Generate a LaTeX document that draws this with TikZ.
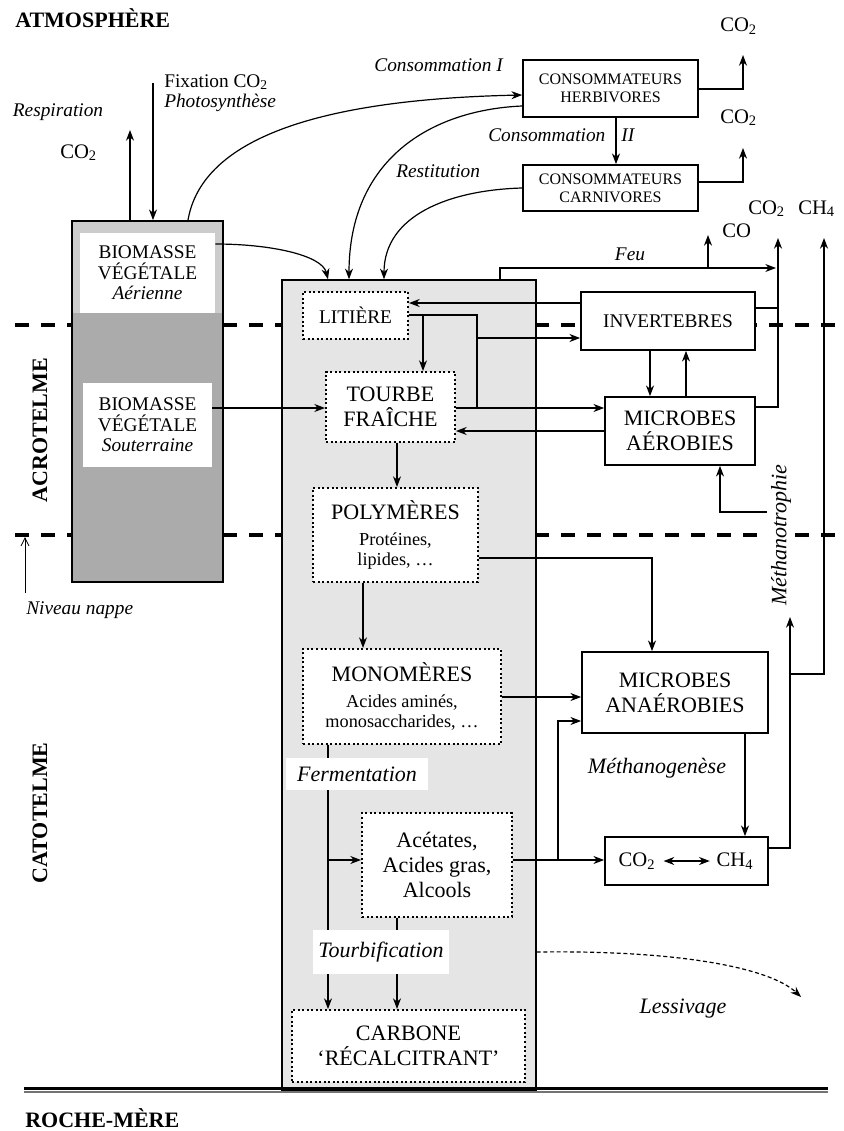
\documentclass[tikz,border=0pt]{standalone}
\usepackage{fontspec}
\setmainfont{Liberation Serif}
\usetikzlibrary{arrows.meta}
\newcommand\myszA{\fontsize{14.5pt}{15.4pt}\selectfont}
\newcommand\myszB{\fontsize{16.5pt}{19pt}\selectfont}
\newcommand\myszC{\fontsize{12pt}{13.5pt}\selectfont}
\newcommand\myszD{\fontsize{13.7pt}{15.5pt}\selectfont}
\newcommand\myszG{\fontsize{15.5pt}{17pt}\selectfont}
\newcommand\myszT{\fontsize{16.5pt}{19pt}\selectfont\bfseries}
\begin{document}
\begin{tikzpicture}[x=0.75pt,y=-0.75pt,
  arr/.style={-{Stealth[length=8pt,width=6pt,inset=2.5pt]}, line width=0.9pt},
  ln/.style={line width=0.9pt},
  wl/.style={line width=2.3pt, dash pattern=on 10.5pt off 9pt},
  solidbox/.style={draw, line width=1.3pt, fill=white, inner sep=0pt, align=center},
  dotbox/.style={draw, line width=1.5pt, dash pattern=on 1.5pt off 1.9pt, fill=white, inner sep=0pt, align=center},
  lbl/.style={inner sep=0pt, font=\myszA\itshape},
  lblB/.style={inner sep=0pt, font=\myszB\itshape},
  gasl/.style={inner sep=0pt, font=\myszG},
  ttl/.style={inner sep=0pt, font=\myszT}]

\fill[white] (0,0) rectangle (842,1131);

% water-table lines
\draw[wl] (15,325) -- (842,325);
\draw[wl] (15,535) -- (842,535);

% biomass column
\fill[black!20] (72,221) rectangle (223,313);
\fill[black!33] (72,313) rectangle (223,582);
\node[draw, line width=1.3pt, minimum width=113.25pt, minimum height=270.75pt, inner sep=0pt] (biocol) at (147.5,401.5) {};
\node[fill=white, minimum width=101.25pt, minimum height=60pt, inner sep=0pt, align=center, font=\myszA] (bioA) at (147.5,273) {BIOMASSE\\VÉGÉTALE\\\textit{Aérienne}};
\node[fill=white, minimum width=96.75pt, minimum height=63pt, inner sep=0pt, align=center, font=\myszA] (bioS) at (147.5,425) {BIOMASSE\\VÉGÉTALE\\\textit{Souterraine}};

% peat column
\node[draw, line width=1.1pt, fill=black!10, minimum width=190.5pt, minimum height=607.5pt, inner sep=0pt] (col) at (409,685) {};

% dotted boxes in the column
\node[dotbox, font=\myszA, minimum width=78.75pt, minimum height=35.25pt] (litiere) at (355.5,315.5) {LITIÈRE};
\node[dotbox, font=\myszB, minimum width=96.75pt, minimum height=52.5pt] (tourbe) at (390.5,407) {TOURBE\\FRAÎCHE};
\node[dotbox, font=\myszD, minimum width=123.75pt, minimum height=70.5pt] (poly) at (395.5,535) {{\myszB POLYMÈRES}\\[4pt]Protéines,\\lipides, …};
\node[dotbox, font=\myszD, minimum width=148.5pt, minimum height=71.25pt] (mono) at (402,696.5) {{\myszB MONOMÈRES}\\[4pt]Acides aminés,\\monosaccharides, …};
\node[dotbox, font=\myszB, minimum width=112.5pt, minimum height=78pt] (acet) at (437,865) {Acétates,\\Acides gras,\\Alcools};
\node[dotbox, font=\myszB, minimum width=174.75pt, minimum height=54pt] (carbone) at (408.5,1046) {CARBONE\\‘RÉCALCITRANT’};

% solid boxes
\node[solidbox, font=\myszC, minimum width=131.25pt, minimum height=42.75pt] (herb) at (610.5,88.5) {CONSOMMATEURS\\HERBIVORES};
\node[solidbox, font=\myszC, minimum width=131.25pt, minimum height=34.5pt] (carn) at (610.5,188) {CONSOMMATEURS\\CARNIVORES};
\node[solidbox, font=\myszA, minimum width=130.5pt, minimum height=43.5pt] (invert) at (668,321) {INVERTEBRES};
\node[solidbox, font=\myszB, minimum width=112.5pt, minimum height=51pt] (aero) at (680,431) {MICROBES\\AÉROBIES};
\node[solidbox, font=\myszB, minimum width=139.5pt, minimum height=60.75pt] (anaero) at (675,692.5) {MICROBES\\ANAÉROBIES};
\node[solidbox, minimum width=122.25pt, minimum height=36pt] (gas) at (686.5,861) {};
\node[gasl] (gco2) at (637,861) {CO\textsubscript{2}};
\node[gasl] (gch4) at (735,861) {CH\textsubscript{4}};
\draw[{Stealth[length=8pt,width=6pt,inset=2.5pt]}-{Stealth[length=8pt,width=6pt,inset=2.5pt]}, line width=0.9pt, shorten <=6pt, shorten >=5pt] (gco2) -- (gch4);

% free ends
\coordinate (respEnd) at (130,130);
\coordinate (fixStart) at (153,83);
\coordinate (h1) at (743,55);
\coordinate (c1) at (743,148);
\coordinate (feuEnd) at (776,268);
\coordinate (coEnd) at (708,235);
\coordinate (co2End) at (778,238);
\coordinate (ch4End) at (824,238);
\coordinate (jL) at (477,315);
\coordinate (jA) at (558,860);
\coordinate (mt) at (790,617);
\coordinate (mtB) at (767,512);
\coordinate (lessEnd) at (801,997);
\coordinate (npS) at (25,593);
\coordinate (npE) at (25,537);

% atmosphere exchanges
\draw[arr] (biocol.north -| respEnd) -- (respEnd);
\draw[arr] (fixStart) -- (fixStart |- biocol.north);
\draw[arr] (biocol.north -| 188,0) .. controls (200,150) and (290,100) .. (herb.west |- 0,95);
\draw[arr] (herb.west |- 0,106) .. controls (430,110) and (349,160) .. (col.north -| 349,0);
\draw[arr] (carn.west |- 0,188) .. controls (450,190) and (384,215) .. (col.north -| 384,0);
\draw[arr] (bioA.east |- 0,244) .. controls (270,244) and (322,255) .. (col.north -| 328,0);
\draw[arr] (herb.south -| 616,0) -- (carn.north -| 616,0);
\draw[arr] (herb.east |- 0,89) -| (h1);
\draw[arr] (carn.east |- 0,182) -| (c1);

% fire
\draw[arr] (col.north -| 500,0) |- (feuEnd);
\draw[arr] (coEnd |- feuEnd) -- (coEnd);
\draw[arr] (aero.east |- 0,407) -| (co2End);
\draw[ln] (invert.east |- 0,308) -- (co2End |- 0,308);

% litter / fresh peat
\draw[arr] (invert.west |- 0,303) -- (litiere.east |- 0,303);
\draw[ln] (litiere.east |- jL) -- (jL) -- (jL |- 0,408);
\draw[arr] (jL |- 0,338) -- (invert.west |- 0,338);
\draw[arr] (423,315) -- (tourbe.north -| 423,0);
\draw[arr] (bioS.east |- 0,408) -- (tourbe.west |- 0,408);
\draw[arr] (tourbe.east |- 0,408) -- (aero.west |- 0,408);
\draw[arr] (aero.west |- 0,431) -- (tourbe.east |- 0,431);
\draw[arr] (invert.south -| 650,0) -- (aero.north -| 650,0);
\draw[arr] (aero.north -| 686,0) -- (invert.south -| 686,0);
\draw[arr] (mtB) -| (aero.south -| 720,0);

% decomposition chain
\draw[arr] (tourbe.south -| 397,0) -- (poly.north -| 397,0);
\draw[arr] (poly.south -| 363,0) -- (mono.north -| 363,0);
\draw[arr] (poly.east |- 0,558) -| (anaero.north -| 652,0);
\draw[arr] (mono.east |- 0,697) -- (anaero.west |- 0,697);
\draw[arr] (acet.east |- jA) -- (gas.west |- jA);
\draw[arr] (jA) |- (anaero.west |- 0,721);
\draw[arr] (anaero.south -| 745,0) -- (gas.north -| 745,0);
\draw[arr] (gas.east |- 0,848) -| (mt);
\draw[arr] (mt |- 0,674) -| (ch4End);
\draw[arr] (mono.south -| 328,0) -- (carbone.north -| 328,0);
\draw[arr] (328,860) -- (acet.west |- 0,860);
\draw[arr] (acet.south -| 397,0) -- (carbone.north -| 397,0);
\draw[arr, dash pattern=on 3pt off 2pt] (col.east |- 0,952) .. controls (680,950) and (770,968) .. (lessEnd);
\draw[-{Straight Barb[length=6pt,width=6pt]}, line width=0.6pt] (npS) -- (npE);

% bedrock
\draw[line width=1.6pt] (24,1088.5) -- (828,1088.5);
\draw[line width=0.8pt, black!55] (24,1092) -- (828,1092);

% labels
\node[ttl, anchor=base west] (atm) at (15,28) {ATMOSPHÈRE};
\node[ttl, anchor=base west] (roche) at (25,1127) {ROCHE-MÈRE};
\node[ttl, rotate=90] (acro) at (40,430) {ACROTELME};
\node[ttl, rotate=90] (cato) at (40,813) {CATOTELME};
\node[lbl, anchor=base] (resp) at (58,117) {Respiration};
\node[gasl, anchor=base west] (co2r) at (60,158) {CO\textsubscript{2}};
\node[inner sep=0pt, font=\myszA, anchor=north west, align=left] (fix) at (164,74) {Fixation CO\textsubscript{2}\\\textit{Photosynthèse}};
\node[lbl, anchor=base east] (cons1) at (503,72) {Consommation I};
\node[lbl, anchor=base west] (restit) at (396,177) {Restitution};
\node[lbl, anchor=base west] (cons2) at (488,141) {Consommation\hspace{12pt}II};
\node[gasl, anchor=base west] (co2h) at (720,32) {CO\textsubscript{2}};
\node[gasl, anchor=base west] (co2c) at (720,123) {CO\textsubscript{2}};
\node[gasl, anchor=base west] (co) at (722,237) {CO};
\node[gasl, anchor=base west] (co2f) at (748,214) {CO\textsubscript{2}};
\node[gasl, anchor=base west] (ch4f) at (798,214) {CH\textsubscript{4}};
\node[lbl, anchor=base] (feu) at (630,260) {Feu};
\node[lbl, anchor=base west] (nappe) at (26,614) {Niveau nappe};
\node[lblB, anchor=base, fill=white, inner xsep=8pt, inner ysep=6.5pt] (ferm) at (357,781) {Fermentation};
\node[lblB, anchor=base, fill=white, inner xsep=4pt, inner ysep=9pt] (tourbif) at (381,957) {Tourbification};
\node[lblB, anchor=base] (methg) at (657,773) {Méthanogenèse};
\node[lblB, anchor=base] (lessiv) at (683,1013) {Lessivage};
\node[lblB, rotate=90, fill=white, inner sep=3pt] (metht) at (781,535) {Méthanotrophie};
\end{tikzpicture}
\end{document}
